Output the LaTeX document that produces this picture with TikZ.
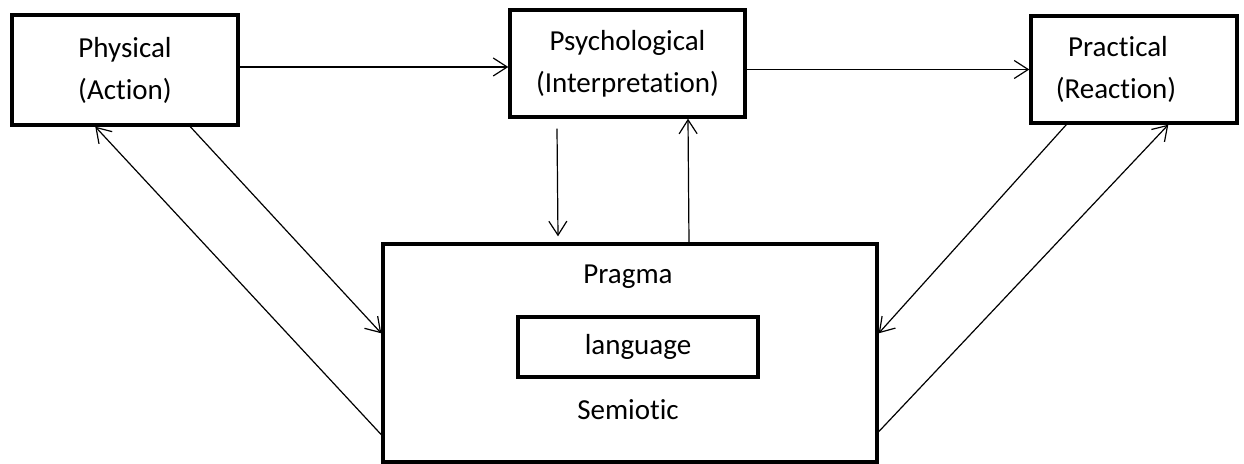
\documentclass[tikz,border=0pt]{standalone}
\usepackage{fontspec}
\setmainfont{Carlito}[Ligatures=NoCommon]
\usetikzlibrary{arrows.meta}

\begin{document}
\begin{tikzpicture}[x=0.5pt, y=-0.5pt, font=\fontsize{14.5}{21}\selectfont,
	box/.style={draw, line width=1.7pt, inner sep=0pt, align=center},
	link/.style={line width=0.6pt, -{Straight Barb[length=7pt,width=9pt]}}]
	\useasboundingbox (0,0) rectangle (1244,464);
	\node[box, minimum width=113pt, minimum height=55pt] (phys) at (125,70) {Physical\\(Action)};
	\node[box, minimum width=117.5pt, minimum height=53.5pt] (psych) at (627.5,63.5) {Psychological\\(Interpretation)};
	\node[box, minimum width=103pt, minimum height=53.5pt] (pract) at (1134,69.5) {Practical\hspace*{16pt}\\(Reaction)\hspace*{18pt}};
	\node[box, minimum width=247pt, minimum height=109pt] (pragma) at (630,353) {};
	\node (pragmatxt) at (628,277) {Pragma};
	\node[box, minimum width=120pt, minimum height=30pt] (lang) at (638,347) {language};
	\node (semiotxt) at (628,410) {Semiotic};
	\draw[link] (phys.east |- 0,67) -- (psych.west |- 0,67);
	\draw[link] (psych.east |- pract.west) -- (pract.west);
	\draw[link] ([xshift=-35.25pt,yshift=-5pt]psych.south) -- ([xshift=-36pt,yshift=3pt]pragma.north);
	\draw[link] ([xshift=29.5pt]pragma.north) -- ([xshift=30.25pt]psych.south);
	\draw[link] ([xshift=90pt]phys.south west) -- ([yshift=-45.5pt]pragma.north west);
	\draw[link] ([yshift=14.5pt]pragma.south west) -- ([xshift=42.5pt]phys.south west);
	\draw[link] ([xshift=18.5pt]pract.south west) -- ([yshift=-45.5pt]pragma.north east);
	\draw[link] ([yshift=16pt]pragma.south east) -- ([xshift=69.5pt]pract.south west);
\end{tikzpicture}
\end{document}
